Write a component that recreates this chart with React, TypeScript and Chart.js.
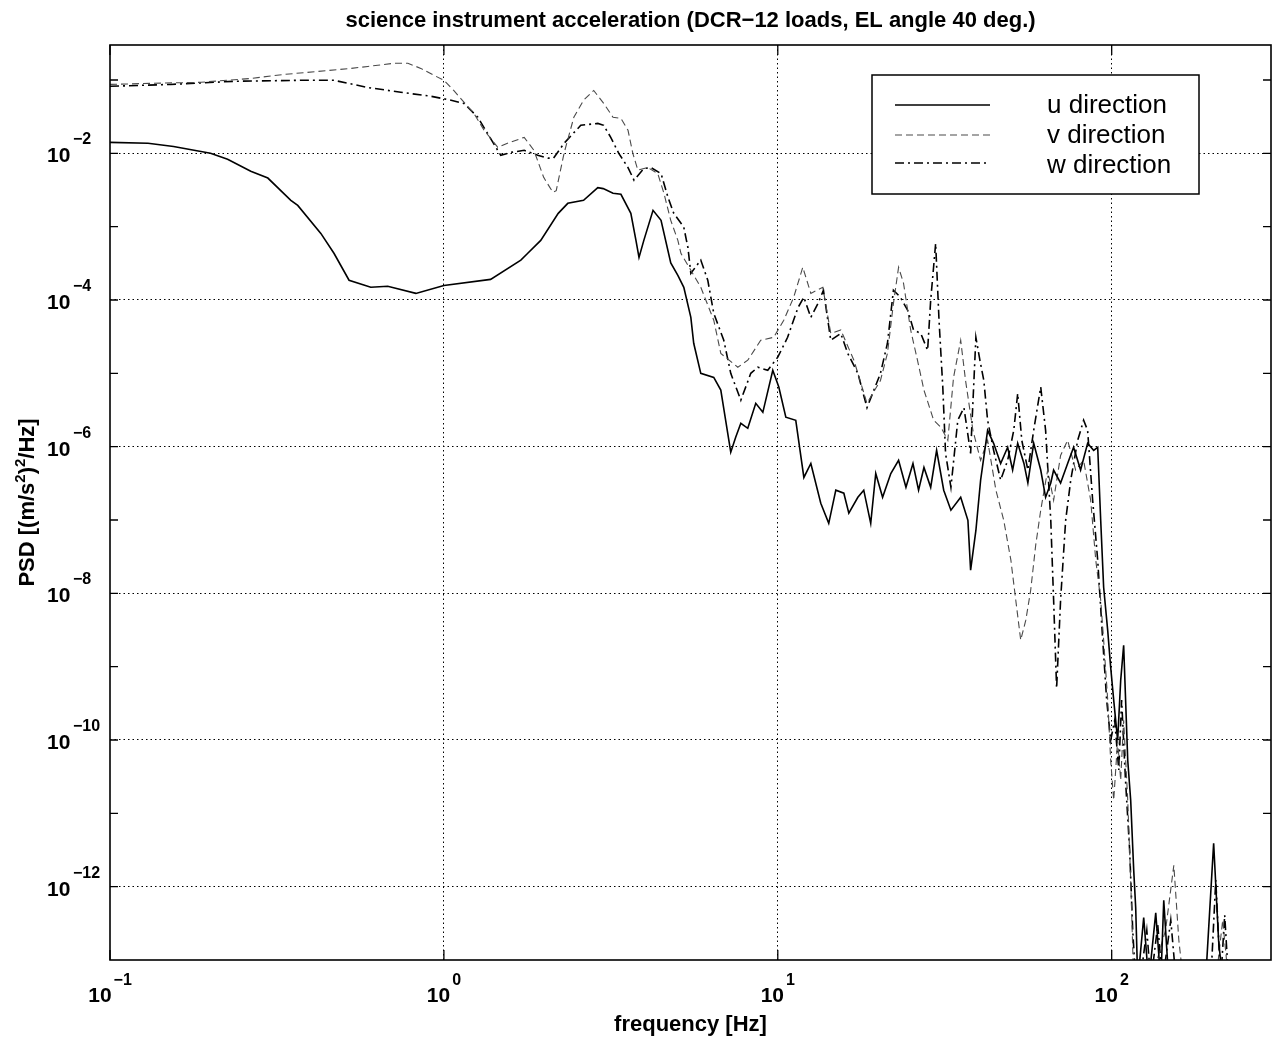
import React, { useEffect, useRef } from 'react';
import { Chart, registerables } from 'chart.js';

Chart.register(...registerables);

// ---------- data ----------
const uFreq = [0.1, 0.13, 0.155, 0.2, 0.225, 0.264, 0.297, 0.348, 0.365, 0.428, 0.469, 0.52, 0.604, 0.679, 0.824, 1.0, 1.38, 1.7, 1.78, 1.95, 2.2, 2.35, 2.62, 2.89, 3.0, 3.21, 3.39, 3.63, 3.76, 3.84, 3.97, 4.23, 4.47, 4.78, 5.02, 5.23, 5.49, 5.6, 5.88, 6.43, 6.75, 6.98, 7.23, 7.48, 7.75, 8.13, 8.59, 9.02, 9.66, 10.07, 10.57, 11.32, 11.97, 12.56, 13.45, 14.21, 14.92, 15.77, 16.32, 17.37, 18.09, 18.98, 19.65, 20.6, 21.8, 23.0, 24.2, 25.4, 26.4, 27.4, 28.7, 29.9, 31.4, 33.0, 35.3, 37.1, 37.8, 39.2, 40.5, 42.5, 44.3, 46.5, 48.8, 50.5, 52.3, 54.6, 56.1, 58.4, 61.3, 63.4, 65.7, 67.0, 70.3, 73.8, 76.9, 80.7, 84.7, 88.3, 90.8, 92.7, 94.6, 97.3, 99.3, 101.4, 104.2, 106.4, 108.6, 111.7, 114, 116.4, 118, 119.7, 124.7, 129.1, 135.5, 140.3, 143.2, 148.3, 191, 202, 209, 215];
const uPsd = [1.41e-2, 1.37e-2, 1.24e-2, 1.0e-2, 8.3e-3, 5.7e-3, 4.6e-3, 2.29e-3, 1.95e-3, 8.1e-4, 4.3e-4, 1.86e-4, 1.49e-4, 1.54e-4, 1.23e-4, 1.58e-4, 1.91e-4, 3.5e-4, 4.3e-4, 6.5e-4, 1.52e-3, 2.08e-3, 2.29e-3, 3.4e-3, 3.3e-3, 2.85e-3, 2.76e-3, 1.52e-3, 6.5e-4, 3.8e-4, 6.5e-4, 1.67e-3, 1.22e-3, 3.2e-4, 2.17e-4, 1.49e-4, 5.8e-5, 2.57e-5, 1.0e-5, 8.8e-6, 5.9e-6, 2.29e-6, 8.4e-7, 1.34e-6, 2.08e-6, 1.78e-6, 3.9e-6, 2.94e-6, 1.1e-5, 6.5e-6, 2.52e-6, 2.29e-6, 3.8e-7, 5.9e-7, 1.69e-7, 9.0e-8, 2.55e-7, 2.32e-7, 1.24e-7, 2.04e-7, 2.55e-7, 9.0e-8, 4.3e-7, 2.04e-7, 4.3e-7, 6.5e-7, 2.79e-7, 5.9e-7, 2.55e-7, 5.2e-7, 2.79e-7, 8.9e-7, 2.55e-7, 1.36e-7, 2.04e-7, 9.9e-8, 2.07e-8, 7.2e-8, 3.5e-7, 1.67e-6, 1.11e-6, 5.9e-7, 9.8e-7, 4.8e-7, 1.11e-6, 5.9e-7, 3.2e-7, 1.11e-6, 4.8e-7, 2.04e-7, 3.2e-7, 4.8e-7, 3.2e-7, 5.9e-7, 9.8e-7, 4.8e-7, 1.11e-6, 8.9e-7, 9.8e-7, 9.9e-8, 1.21e-8, 3.1e-9, 9.8e-10, 3.5e-10, 9.9e-11, 6.5e-10, 1.96e-9, 5.3e-11, 1.51e-11, 1.68e-12, 5.2e-13, 5e-14, 3.8e-13, 5e-14, 4.4e-13, 5e-14, 6.5e-13, 5e-14, 5e-14, 3.9e-12, 1.86e-13, 5e-14];

const vFreq = [0.1, 0.133, 0.187, 0.264, 0.332, 0.42, 0.527, 0.592, 0.708, 0.78, 0.853, 0.933, 1.0, 1.07, 1.23, 1.32, 1.45, 1.55, 1.74, 1.86, 1.99, 2.12, 2.17, 2.29, 2.45, 2.62, 2.81, 3.01, 3.21, 3.39, 3.56, 3.68, 3.81, 4.08, 4.37, 4.56, 4.78, 5.02, 5.13, 5.88, 6.43, 6.75, 7.59, 8.13, 8.89, 9.72, 10.42, 11.16, 11.88, 12.56, 13.64, 14.41, 15.44, 16.9, 18.5, 20.3, 21.3, 22.2, 23.0, 23.8, 25.0, 26.2, 27.4, 29.3, 30.8, 32.3, 33.6, 35.3, 36.5, 38.4, 40.5, 42.5, 45.0, 47.5, 49.9, 51.6, 53.4, 55.3, 57.2, 59.2, 61.3, 64.3, 67.0, 70.3, 73.8, 78.0, 82.4, 86.5, 89.6, 92.7, 94.6, 97.3, 99.3, 101.4, 104.2, 106.4, 108.6, 111.7, 114, 116.4, 131, 145, 153.5, 158.9, 164, 205, 215, 224];
const vPsd = [8.7e-2, 9.0e-2, 9.3e-2, 0.105, 0.119, 0.131, 0.144, 0.153, 0.169, 0.169, 0.144, 0.116, 9.9e-2, 7.2e-2, 3.5e-2, 2.06e-2, 1.21e-2, 1.37e-2, 1.65e-2, 1.1e-2, 4.7e-3, 2.94e-3, 3.1e-3, 1.0e-2, 3.1e-2, 5.3e-2, 7.2e-2, 4.8e-2, 3.1e-2, 3.0e-2, 2.06e-2, 1.0e-2, 5.9e-3, 6.4e-3, 5.3e-3, 2.85e-3, 1.22e-3, 6.5e-4, 4.3e-4, 1.49e-4, 5.3e-5, 1.87e-5, 1.21e-5, 1.51e-5, 2.82e-5, 3.1e-5, 5.3e-5, 1.09e-4, 2.79e-4, 1.23e-4, 1.49e-4, 3.5e-5, 3.9e-5, 1.51e-5, 3.9e-6, 8.0e-6, 1.87e-5, 9.0e-5, 2.79e-4, 1.69e-4, 3.9e-5, 1.51e-5, 5.9e-6, 2.29e-6, 1.84e-6, 1.22e-6, 8.8e-6, 2.82e-5, 8.0e-6, 1.67e-6, 6.5e-7, 1.22e-6, 2.55e-7, 9.9e-8, 2.83e-8, 8.1e-9, 2.3e-9, 4.3e-9, 1.1e-8, 4.5e-8, 1.36e-7, 4.8e-7, 1.86e-7, 7.6e-7, 1.22e-6, 4.8e-7, 6.5e-7, 1.86e-7, 2.83e-8, 8.1e-9, 2.3e-9, 3.5e-10, 5.3e-11, 1.51e-11, 9.9e-11, 2.83e-11, 1.86e-10, 1.51e-11, 1.23e-12, 5e-14, 5e-14, 2.55e-13, 1.96e-12, 1.86e-13, 5e-14, 5e-14, 3.5e-13, 5e-14];

const wFreq = [0.1, 0.152, 0.235, 0.373, 0.469, 0.592, 0.743, 0.914, 1.03, 1.148, 1.264, 1.35, 1.48, 1.59, 1.74, 1.91, 2.05, 2.13, 2.29, 2.57, 2.89, 3.01, 3.16, 3.34, 3.56, 3.71, 3.97, 4.17, 4.47, 4.69, 4.88, 5.13, 5.23, 5.38, 5.49, 5.88, 6.17, 6.43, 6.89, 7.23, 7.75, 8.3, 8.71, 9.33, 10.0, 10.7, 11.5, 11.97, 12.56, 13.2, 13.7, 14.41, 15.44, 16.2, 17.37, 18.5, 20.3, 21.3, 22.2, 23.3, 24.5, 25.5, 26.8, 28.1, 28.7, 29.7, 30.4, 31.2, 31.8, 33.0, 34.6, 36.1, 37.8, 39.2, 40.3, 41.4, 42.5, 44.3, 46.5, 48.8, 50.9, 52.3, 53.8, 56.1, 58.4, 61.3, 63.4, 65.7, 67.0, 68.4, 70.3, 72.8, 75.4, 79.1, 82.4, 84.7, 87.7, 90.8, 94.0, 96.6, 99.3, 102.1, 105, 107.1, 110, 113.2, 115.6, 118, 121.6, 127.4, 131, 137.4, 142, 150.3, 156, 198, 205, 212, 218, 224];
const wPsd = [8.2e-2, 8.7e-2, 9.6e-2, 9.9e-2, 9.9e-2, 7.9e-2, 6.8e-2, 6.0e-2, 5.4e-2, 4.8e-2, 3.1e-2, 1.88e-2, 9.4e-3, 1.03e-2, 1.1e-2, 9.4e-3, 8.6e-3, 8.6e-3, 1.37e-2, 2.41e-2, 2.56e-2, 2.41e-2, 1.65e-2, 1.0e-2, 6.4e-3, 4.3e-3, 6.2e-3, 6.4e-3, 5.3e-3, 2.51e-3, 1.52e-3, 1.11e-3, 9.8e-4, 5.2e-4, 2.31e-4, 3.5e-4, 1.86e-4, 6.6e-5, 2.82e-5, 1.0e-5, 4.3e-6, 1.0e-5, 1.21e-5, 1.1e-5, 1.66e-5, 3.1e-5, 7.9e-5, 1.09e-4, 5.8e-5, 9.0e-5, 1.36e-4, 2.82e-5, 3.5e-5, 1.87e-5, 1.0e-5, 3.4e-6, 1.0e-5, 2.57e-5, 1.36e-4, 1.09e-4, 7.2e-5, 3.9e-5, 3.5e-5, 2.06e-5, 9.9e-5, 5.9e-4, 5.3e-5, 6.5e-6, 8.1e-7, 2.79e-7, 2.29e-6, 3.4e-6, 8.1e-7, 3.1e-5, 1.51e-5, 8.0e-6, 2.29e-6, 8.9e-7, 3.5e-7, 6.5e-7, 1.67e-6, 5.3e-6, 1.22e-6, 4.8e-7, 1.67e-6, 6.5e-6, 1.67e-6, 9.9e-8, 8.1e-9, 5.1e-10, 8.1e-9, 9.9e-8, 3.5e-7, 1.22e-6, 2.29e-6, 1.67e-6, 1.86e-7, 2.83e-8, 2.3e-9, 3.5e-10, 9.9e-11, 1.86e-10, 3.9e-11, 3.5e-10, 2.83e-11, 3.1e-12, 2.55e-13, 5e-14, 5e-14, 2.55e-13, 5e-14, 3.0e-13, 5e-14, 3.5e-13, 5e-14, 5e-14, 1.23e-12, 5e-14, 4.1e-13, 5e-14];

const seriesLabels = ['u direction', 'v direction', 'w direction'];
const xTickValues = [0.1, 1, 10, 100];
const xTickExps = ['\u22121', '0', '1', '2'];
const yTickValues = [1e-2, 1e-4, 1e-6, 1e-8, 1e-10, 1e-12];
const yTickExps = ['\u22122', '\u22124', '\u22126', '\u22128', '\u221210', '\u221212'];
const yMinorTickValues = [1e-1, 1e-3, 1e-5, 1e-7, 1e-9, 1e-11];
const titleText = 'science instrument acceleration (DCR\u221212 loads, EL angle 40 deg.)';
const xAxisLabel = 'frequency [Hz]';
const yAxisLabelParts = [
  { t: 'PSD [(m/s', sup: false },
  { t: '2', sup: true },
  { t: ')', sup: false },
  { t: '2', sup: true },
  { t: '/Hz]', sup: false },
];

// ---------- styling ----------
const FONT = '"Liberation Sans", Arial, Helvetica, sans-serif';
const seriesStyles = [
  { color: '#000000', width: 1.6, dash: [] as number[] },
  { color: '#4a4a4a', width: 1.1, dash: [7, 4] },
  { color: '#000000', width: 1.6, dash: [9, 4, 2, 4] },
];
const legendBox = { left: 872, top: 75, right: 1199, bottom: 194 };
const legendRows = [
  { lineY: 105, textY: 113 },
  { lineY: 135, textY: 143 },
  { lineY: 163, textY: 173 },
];

const overlayPlugin = {
  id: 'overlay',
  afterDatasetsDraw(chart: any) {
    const { ctx, chartArea: a, scales } = chart;
    const xs = scales.x;
    const ys = scales.y;
    ctx.save();
    ctx.fillStyle = '#000';
    ctx.strokeStyle = '#000';

    // frame
    ctx.setLineDash([]);
    ctx.lineWidth = 1.6;
    ctx.strokeRect(a.left, a.top, a.right - a.left, a.bottom - a.top);

    // tick marks (inward)
    ctx.lineWidth = 1.3;
    ctx.beginPath();
    [...yTickValues, ...yMinorTickValues].forEach((v) => {
      const y = ys.getPixelForValue(v);
      if (y < a.top + 1 || y > a.bottom - 1) return;
      ctx.moveTo(a.left, y);
      ctx.lineTo(a.left + 8, y);
      ctx.moveTo(a.right, y);
      ctx.lineTo(a.right - 8, y);
    });
    xTickValues.forEach((v) => {
      const x = xs.getPixelForValue(v);
      ctx.moveTo(x, a.bottom);
      ctx.lineTo(x, a.bottom - 10);
      ctx.moveTo(x, a.top);
      ctx.lineTo(x, a.top + 10);
    });
    ctx.stroke();

    // y tick labels
    ctx.textAlign = 'left';
    ctx.textBaseline = 'alphabetic';
    yTickValues.forEach((v, i) => {
      const y = ys.getPixelForValue(v);
      ctx.font = `bold 21px ${FONT}`;
      ctx.fillText('10', 47, y + 9);
      ctx.font = `bold 16px ${FONT}`;
      ctx.fillText(yTickExps[i], 73, y - 9);
    });

    // x tick labels
    xTickValues.forEach((v, i) => {
      const x = xs.getPixelForValue(v);
      ctx.font = `bold 21px ${FONT}`;
      const w1 = ctx.measureText('10').width;
      ctx.font = `bold 16px ${FONT}`;
      const w2 = ctx.measureText(xTickExps[i]).width;
      const start = x - (w1 + 2 + w2) / 2;
      ctx.font = `bold 21px ${FONT}`;
      ctx.fillText('10', start, 1002);
      ctx.font = `bold 16px ${FONT}`;
      ctx.fillText(xTickExps[i], start + w1 + 2, 985);
    });

    const cx = (a.left + a.right) / 2;
    const cy = (a.top + a.bottom) / 2;

    // title
    ctx.textAlign = 'center';
    ctx.font = `bold 22px ${FONT}`;
    ctx.fillText(titleText, cx, 27);

    // x axis label
    ctx.fillText(xAxisLabel, cx, 1031);

    // y axis label (rotated, with superscripts)
    ctx.save();
    ctx.translate(34, cy);
    ctx.rotate(-Math.PI / 2);
    ctx.textAlign = 'left';
    const widths = yAxisLabelParts.map((p) => {
      ctx.font = p.sup ? `bold 15px ${FONT}` : `bold 22px ${FONT}`;
      return ctx.measureText(p.t).width;
    });
    let px = -widths.reduce((s, w) => s + w, 0) / 2;
    yAxisLabelParts.forEach((p, i) => {
      ctx.font = p.sup ? `bold 15px ${FONT}` : `bold 22px ${FONT}`;
      ctx.fillText(p.t, px, p.sup ? -9 : 0);
      px += widths[i];
    });
    ctx.restore();

    // legend
    ctx.fillStyle = '#fff';
    ctx.fillRect(legendBox.left, legendBox.top, legendBox.right - legendBox.left, legendBox.bottom - legendBox.top);
    ctx.strokeStyle = '#000';
    ctx.lineWidth = 1.5;
    ctx.setLineDash([]);
    ctx.strokeRect(legendBox.left, legendBox.top, legendBox.right - legendBox.left, legendBox.bottom - legendBox.top);
    chart.data.datasets.forEach((ds: any, i: number) => {
      const row = legendRows[i];
      ctx.strokeStyle = ds.borderColor;
      ctx.lineWidth = ds.borderWidth;
      ctx.setLineDash(ds.borderDash || []);
      ctx.beginPath();
      ctx.moveTo(895, row.lineY);
      ctx.lineTo(990, row.lineY);
      ctx.stroke();
      ctx.setLineDash([]);
      ctx.fillStyle = '#000';
      ctx.textAlign = 'left';
      ctx.font = `26px ${FONT}`;
      ctx.fillText(ds.label, 1047, row.textY);
    });

    ctx.restore();
  },
};

export default function App() {
  const ref = useRef<HTMLCanvasElement>(null);

  useEffect(() => {
    document.body.style.margin = '0';
    const canvas = ref.current;
    if (!canvas) return;
    const series = [
      [uFreq, uPsd],
      [vFreq, vPsd],
      [wFreq, wPsd],
    ];
    const datasets = series.map(([f, p], i) => ({
      label: seriesLabels[i],
      data: f.map((x, j) => ({ x, y: p[j] })),
      borderColor: seriesStyles[i].color,
      borderWidth: seriesStyles[i].width,
      borderDash: seriesStyles[i].dash,
      pointRadius: 0,
      tension: 0,
      fill: false,
    }));

    const chart = new Chart(canvas, {
      type: 'line',
      data: { datasets },
      options: {
        responsive: false,
        animation: false,
        devicePixelRatio: 1,
        events: [],
        layout: { padding: { left: 110, right: 2, top: 45, bottom: 82 } },
        plugins: {
          legend: { display: false },
          tooltip: { enabled: false },
          title: { display: false },
        },
        scales: {
          x: {
            type: 'logarithmic',
            min: 0.1,
            max: 300,
            bounds: 'data',
            afterBuildTicks: (s: any) => {
              s.ticks = xTickValues.slice(1).map((value) => ({ value }));
            },
            afterFit: (s: any) => {
              s.height = 0;
            },
            ticks: { display: false },
            grid: { color: '#000', lineWidth: 1, drawTicks: false },
            border: { display: false, dash: [1.5, 3] },
          },
          y: {
            type: 'logarithmic',
            min: 1e-13,
            max: 0.3,
            bounds: 'data',
            afterBuildTicks: (s: any) => {
              s.ticks = yTickValues.map((value) => ({ value }));
            },
            afterFit: (s: any) => {
              s.width = 0;
            },
            ticks: { display: false },
            grid: { color: '#000', lineWidth: 1, drawTicks: false },
            border: { display: false, dash: [1.5, 3] },
          },
        },
      } as any,
      plugins: [overlayPlugin],
    });
    return () => chart.destroy();
  }, []);

  return <canvas ref={ref} width={1273} height={1042} style={{ display: 'block' }} />;
}
